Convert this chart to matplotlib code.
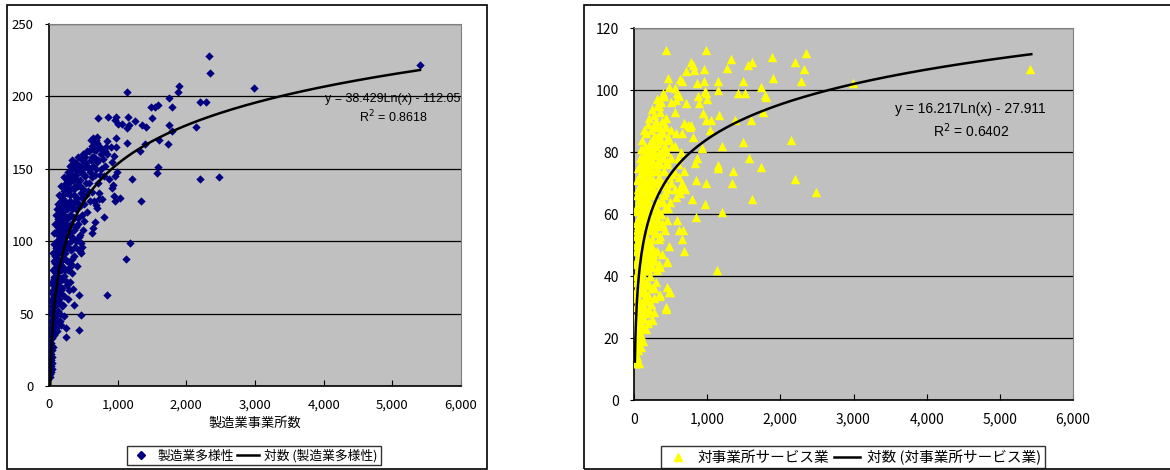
import matplotlib
matplotlib.use("Agg")
import matplotlib.pyplot as plt
import numpy as np
from matplotlib.patches import Rectangle
from matplotlib.lines import Line2D

plt.rcParams["font.family"] = ["Noto Sans CJK JP", "DejaVu Sans"]

# 製造業: (事業所数, 多様性)
mfg_x = [12, 15, 18, 20, 22, 25, 28, 30, 32, 35, 38, 40, 42, 45, 48, 50, 52, 55, 58, 60,
         62, 65, 68, 70, 72, 75, 78, 80, 82, 85, 88, 90, 92, 95, 98, 100, 102, 105, 108, 110,
         112, 115, 118, 120, 122, 125, 128, 130, 132, 135, 138, 140, 142, 145, 148, 150, 152, 155, 158, 160,
         162, 165, 168, 170, 172, 175, 178, 180, 182, 185, 188, 190, 192, 195, 198, 200, 205, 208, 210, 215,
         218, 220, 225, 228, 230, 235, 238, 240, 245, 248, 250, 255, 258, 260, 265, 268, 270, 275, 278, 280,
         285, 288, 290, 295, 300, 305, 308, 310, 315, 320, 325, 330, 335, 340, 345, 350, 355, 360, 365, 370,
         375, 380, 385, 390, 395, 400, 405, 410, 415, 420, 425, 430, 440, 445, 450, 455, 460, 470, 475, 480,
         490, 495, 500, 510, 520, 530, 540, 550, 560, 570, 580, 590, 600, 610, 620, 630, 640, 650, 660, 670,
         680, 690, 700, 710, 720, 740, 750, 760, 780, 800, 820, 850, 870, 900, 920,
         5403, 2325, 2345, 2990, 2199, 2282, 1898, 1883, 1752, 1791, 1485, 1549, 1587, 1505, 1136, 1150,
         1136, 1160, 1257, 1350, 1408, 1743, 1791, 2141, 1136, 1393, 1325, 1738, 1607, 1568, 1592, 2204,
         2481, 1204, 1335, 1175, 1121, 840, 980, 1010, 961, 864, 709, 1068, 980, 980, 942, 985, 961, 927,
         922, 951, 961, 1029, 796, 777, 728, 723, 626, 641, 665, 684, 703, 850, 825, 820, 694, 612, 689,
         645, 549, 437, 471, 437, 252, 364, 461, 432, 471, 306, 345, 388,
         8, 10, 14, 16, 20, 24, 26, 30, 34, 36, 40, 44, 48,
         22, 28, 34, 40, 46, 54, 60, 66, 74, 80, 86, 96, 106, 116, 126, 140, 150, 164, 180, 200, 220, 250,
         40, 48, 56, 64, 72, 80, 88, 96, 104, 112, 122, 132, 144, 156, 168, 180, 194, 208, 224, 240,
         258, 276, 296, 318, 340, 370,
         60, 70, 80, 90, 100, 116, 126, 136, 150, 160, 174, 186, 200, 214, 230, 246, 262, 280, 300, 322,
         344, 366, 390, 420, 450, 480, 510,
         110, 130, 148, 166, 182, 196, 212, 226, 244, 262, 280, 300, 320, 340, 360, 380, 404, 430, 456, 484,
         514, 546, 580, 620, 660,
         300, 340, 380, 420, 460, 500, 540, 580, 620, 660, 700, 740, 790]
mfg_y = [15, 25, 12, 30, 18, 35, 22, 40, 28, 45, 20, 50, 33, 55, 40, 60, 27, 48, 65, 38,
         70, 52, 44, 75, 60, 35, 80, 55, 68, 85, 47, 72, 90, 62, 78, 95, 40, 58, 88, 100,
         70, 82, 105, 50, 93, 110, 65, 76, 100, 115, 88, 60, 105, 118, 95, 72, 112, 122, 84, 102,
         45, 118, 125, 92, 66, 108, 128, 80, 115, 98, 130, 55, 120, 105, 74, 132, 112, 88, 125, 100,
         135, 62, 118, 92, 138, 108, 80, 128, 140, 115, 98, 133, 70, 142, 122, 86, 110, 136, 60, 145,
         126, 104, 95, 140, 118, 132, 82, 147, 112, 136, 100, 150, 125, 88, 142, 117, 152, 132, 108, 145,
         96, 138, 154, 122, 110, 146, 130, 83, 150, 116, 138, 103, 152, 124, 142, 93, 133, 148, 118, 156,
         136, 108, 150, 126, 145, 158, 140, 120, 152, 135, 162, 148, 128, 156, 144, 166, 152, 170, 158, 146,
         163, 150, 168, 140, 156, 146, 160, 150, 162, 145, 152, 160, 143, 165, 155,
         222, 228, 216, 206, 196, 196, 207, 203, 199, 193, 193, 193, 194, 185, 203, 186,
         178, 180, 183, 180, 179, 180, 176, 179, 168, 167, 162, 167, 170, 147, 151, 143,
         144, 143, 128, 99, 88, 63, 186, 181, 184, 186, 185, 181, 171, 165, 159, 148, 145, 139,
         137, 131, 128, 130, 117, 129, 129, 133, 106, 109, 113, 125, 123, 169, 165, 162, 172, 170, 170,
         171, 162, 63, 49, 39, 34, 56, 92, 94, 99, 72, 67, 154,
         8, 12, 18, 6, 22, 14, 27, 10, 20, 30, 16, 25, 12,
         38, 45, 52, 36, 58, 42, 48, 55, 40, 62, 50, 45, 56, 38, 52, 44, 58, 50, 42, 56, 48, 40,
         64, 72, 80, 66, 86, 74, 62, 82, 68, 76, 88, 70, 80, 64, 86, 74, 68, 82, 76, 88,
         72, 80, 66, 84, 78, 90,
         92, 98, 106, 112, 118, 96, 108, 92, 100, 114, 96, 108, 118, 94, 104, 112, 98, 116, 106, 94,
         102, 116, 100, 112, 104, 96, 114,
         122, 126, 132, 124, 138, 128, 144, 122, 134, 126, 148, 128, 142, 122, 136, 128, 142, 126, 138, 130,
         146, 132, 140, 134, 128,
         152, 156, 150, 158, 152, 160, 154, 150, 158, 163, 155, 165, 157]

# 対事業所サービス業: (事業所数, 多様性)
svc_x = [12, 15, 18, 20, 22, 25, 28, 30, 32, 35, 38, 40, 42, 45, 48, 50, 52, 55, 58, 60,
         62, 65, 68, 70, 72, 75, 78, 80, 82, 85, 88, 90, 92, 95, 98, 100, 102, 105, 108, 110,
         112, 115, 118, 120, 122, 125, 128, 130, 132, 135, 138, 140, 142, 145, 148, 150, 152, 155, 158, 160,
         162, 165, 168, 170, 172, 175, 178, 180, 182, 185, 188, 190, 192, 195, 198, 200, 205, 208, 210, 215,
         218, 220, 225, 228, 230, 235, 238, 240, 245, 248, 250, 255, 258, 260, 265, 268, 270, 275, 278, 280,
         285, 290, 295, 300, 305, 310, 315, 320, 325, 330, 335, 340, 345, 350, 355, 360, 365, 370, 375, 380,
         385, 390, 395, 400, 405, 410, 415, 420, 425, 430, 440, 445, 450, 455, 460, 470, 480, 490, 500, 510,
         520, 540, 560, 580, 600, 620, 640, 660, 680, 700,
         5408, 2993, 2355, 2197, 2325, 2278, 1886, 1900, 2146, 2205, 2488, 1731, 1791, 1800, 1759, 1608,
         1558, 1492, 1522, 1417, 1326, 1267, 1148, 1153, 1166, 1385, 1599, 1495, 1577, 1731, 1353, 1340,
         1608, 1203, 1144, 1153, 1198, 1130, 980, 442, 961, 961, 966, 989, 1002, 989, 1057, 1034, 784,
         806, 825, 706, 866, 879, 888, 715, 624, 652, 556, 588, 615, 570, 460, 478, 387, 351, 315, 943,
         761, 806, 784, 738, 683, 925, 829, 843, 866, 980, 970, 793, 843, 679, 670, 661, 588, 615, 483,
         456, 351, 456, 487, 351, 442, 251, 169, 32, 68, 269, 579, 624, 647,
         15, 20, 25, 30, 40, 45, 55, 65, 80, 90, 100, 120,
         18, 26, 34, 44, 52, 60, 74, 84, 96, 110, 126, 140, 160, 185, 210, 240,
         16, 24, 36, 46, 56, 66, 78, 88, 104, 118, 134, 150, 168, 186, 204, 226, 250, 280, 300, 340,
         20, 28, 38, 50, 62, 74, 86, 98, 112, 126, 140, 156, 172, 190, 208, 226, 246, 266, 290, 315,
         345, 380, 448, 480, 432, 340,
         22, 32, 44, 54, 66, 78, 90, 104, 118, 132, 146, 162, 178, 194, 212, 230, 250, 272, 296, 320,
         350, 385, 420,
         25, 35, 46, 58, 70, 84, 98, 112, 126, 142, 158, 174, 190, 208, 226, 246, 266, 288, 310, 334,
         360, 390, 425, 470,
         40, 55, 68, 82, 96, 110, 124, 138, 152, 168, 184, 200, 218, 236, 256, 276, 298, 322, 348, 376,
         410, 450, 520, 600,
         90, 110, 130, 150, 170, 190, 212, 236, 258, 282, 308, 334, 362, 392, 424, 460, 500, 560, 650,
         200, 240, 280, 320, 360, 400, 440, 500, 560]
svc_y = [12, 18, 25, 14, 30, 35, 20, 40, 15, 45, 28, 50, 22, 55, 33, 38, 58, 26, 48, 62,
         30, 42, 55, 65, 18, 50, 35, 68, 45, 58, 28, 70, 52, 40, 62, 72, 25, 48, 66, 56,
         74, 36, 60, 76, 44, 68, 52, 78, 30, 64, 72, 42, 58, 80, 50, 70, 35, 75, 62, 46,
         80, 56, 68, 38, 73, 60, 78, 52, 65, 44, 76, 58, 70, 32, 80, 62, 48, 74, 56, 82,
         66, 40, 72, 58, 78, 50, 68, 84, 62, 45, 74, 80, 55, 88, 66, 36, 76, 60, 85, 48,
         70, 82, 56, 90, 65, 75, 42, 85, 58, 70, 95, 80, 52, 88, 64, 76, 96, 60, 84, 70,
         90, 56, 78, 86, 66, 74, 98, 62, 82, 70, 88, 76, 58, 80, 68, 85, 72, 64, 78, 70,
         82, 74, 68, 86, 76, 72, 80, 70, 74, 68,
         106.9, 102.2, 112, 109, 106.9, 103, 110.8, 103.9, 83.8, 71.2, 67, 101, 98.5, 97.7, 92.9, 109,
         108.2, 103, 99, 99, 110, 107, 103, 100, 92, 90.4, 90.2, 83.2, 78, 75.1, 74, 70,
         65, 82, 75.7, 75, 60.8, 41.8, 113, 113, 106.9, 103, 99.8, 99, 97.2, 90.2, 90.2, 87.2, 109,
         108.2, 106.5, 106, 102.2, 98, 95.8, 95.8, 103.6, 103, 100.6, 99, 98, 96.8, 104, 101, 98, 96.3, 94.9, 92.5,
         88.2, 85, 88.8, 88.7, 89.3, 81.3, 76.4, 71, 78, 70, 63.2, 65, 59, 48.2, 55, 51.9, 58, 55, 49.8,
         44.8, 43, 36.6, 34.9, 33.9, 29.9, 25.8, 23, 11.8, 11.8, 28.5, 65.6, 66.7, 68.9,
         13, 16, 12, 17, 14, 19, 16, 18, 20, 17, 21, 19,
         22, 27, 24, 28, 22, 26, 29, 23, 27, 24, 29, 26, 28, 25, 29, 26,
         33, 38, 31, 36, 33, 38, 31, 35, 39, 32, 37, 33, 38, 34, 37, 31, 36, 33, 38, 34,
         44, 48, 41, 46, 43, 49, 44, 47, 41, 45, 49, 43, 47, 42, 46, 49, 43, 47, 45, 48,
         44, 47, 44.5, 34.8, 29.4, 33.7,
         53, 57, 51, 56, 59, 52, 57, 54, 59, 51, 56, 53, 58, 51, 55, 59, 52, 57, 54, 58,
         53, 57, 55,
         62, 66, 61, 68, 63, 67, 61, 65, 69, 62, 66, 61, 69, 64, 67, 62, 68, 63, 67, 61,
         69, 64, 67, 62,
         71, 75, 72, 78, 73, 77, 71, 79, 74, 77, 72, 79, 74, 77, 71, 79, 74, 77, 72, 79,
         74, 77, 73, 78,
         81, 84, 87, 82, 86, 89, 83, 87, 81, 85, 89, 83, 86, 81, 88, 84, 87, 82, 86,
         91, 94, 92, 97, 93, 99, 91, 96, 93]

# 近似曲線 (表示された式の係数): y = a * Ln(x) + b, 描画範囲 x0..x1
mfg_trend = (38.429, -112.05, 19, 5403)
svc_trend = (16.217, -27.911, 12, 5430)
mfg_eq = ["y = 38.429Ln(x) - 112.05", "R$^2$ = 0.8618"]
svc_eq = ["y = 16.217Ln(x) - 27.911", "R$^2$ = 0.6402"]

W, H = 1170, 470
fig = plt.figure(figsize=(W / 100, H / 100), dpi=100)

# outer chart frames
fig.add_artist(Rectangle((7 / W, 1 / H), 480 / W, 464 / H, transform=fig.transFigure,
                         fill=False, edgecolor="black", linewidth=1.2))
fig.add_artist(Rectangle((584 / W, 1 / H), 600 / W, 464 / H, transform=fig.transFigure,
                         fill=False, edgecolor="black", linewidth=1.2))


def style_axes(ax, ymax, ystep, fs):
    ax.set_facecolor("#C0C0C0")
    ax.set_xlim(0, 6000)
    ax.set_ylim(0, ymax)
    ax.set_xticks(np.arange(0, 6001, 1000))
    ax.set_xticklabels([f"{v:,}" for v in range(0, 6001, 1000)])
    ax.set_yticks(np.arange(0, ymax + 1, ystep))
    ax.grid(axis="y", color="black", linewidth=0.9)
    ax.set_axisbelow(True)
    for side in ("top", "right"):
        ax.spines[side].set_color("#808080")
    for side in ("left", "bottom"):
        ax.spines[side].set_color("black")
        ax.spines[side].set_linewidth(1.2)
    ax.tick_params(axis="x", direction="in", length=4, pad=9, labelsize=fs)
    ax.tick_params(axis="y", direction="out", length=3, pad=8, labelsize=fs)


def trend_curve(ax, a, b, x0, x1):
    xs = np.linspace(x0, x1, 800)
    ax.plot(xs, a * np.log(xs) + b, color="black", linewidth=1.8, zorder=4)


eq_font = ["Liberation Sans", "DejaVu Sans"]

# left: manufacturing
ax1 = fig.add_axes([49 / W, 1 - 386 / H, 412 / W, 362 / H])
style_axes(ax1, 250, 50, 9.5)
ax1.scatter(mfg_x, mfg_y, marker="D", s=18, color="#000080", linewidths=0, zorder=3)
trend_curve(ax1, *mfg_trend)
ax1.set_xlabel("製造業事業所数", fontsize=9.5, labelpad=4)
ax1.text(393 / W, 1 - 99 / H, mfg_eq[0], transform=fig.transFigure, ha="center", va="center",
         fontsize=9, family=eq_font, zorder=5)
ax1.text(393 / W, 1 - 117 / H, mfg_eq[1], transform=fig.transFigure, ha="center", va="center",
         fontsize=9, family=eq_font, zorder=5)
h1 = [Line2D([], [], marker="D", color="#000080", linestyle="none", markersize=4),
      Line2D([], [], color="black", linewidth=1.8)]
leg1 = fig.legend(h1, ["製造業多様性", "対数 (製造業多様性)"], loc="center",
                  bbox_to_anchor=(254 / W, 1 - 455.5 / H), ncol=2, fontsize=9.2, frameon=True,
                  fancybox=False, edgecolor="black", handlelength=1.7, handletextpad=0.4,
                  columnspacing=0.3, borderpad=0.25, borderaxespad=0)
leg1.get_frame().set_linewidth(1.0)

# right: business services
ax2 = fig.add_axes([634 / W, 1 - 400 / H, 439 / W, 372 / H])
style_axes(ax2, 120, 20, 10)
ax2.scatter(svc_x, svc_y, marker="^", s=46, color="#FFFF00", linewidths=0, zorder=3)
trend_curve(ax2, *svc_trend)
ax2.text(970 / W, 1 - 109 / H, svc_eq[0], transform=fig.transFigure, ha="center", va="center",
         fontsize=10, family=eq_font, zorder=5)
ax2.text(971 / W, 1 - 131 / H, svc_eq[1], transform=fig.transFigure, ha="center", va="center",
         fontsize=10, family=eq_font, zorder=5)
h2 = [Line2D([], [], marker="^", color="#FFFF00", linestyle="none", markersize=6),
      Line2D([], [], color="black", linewidth=1.8)]
leg2 = fig.legend(h2, ["対事業所サービス業", "対数 (対事業所サービス業)"], loc="center",
                  bbox_to_anchor=(853 / W, 1 - 457 / H), ncol=2, fontsize=10.5, frameon=True,
                  fancybox=False, edgecolor="black", handlelength=1.8, handletextpad=0.5,
                  columnspacing=0.3, borderpad=0.25, borderaxespad=0)
leg2.get_frame().set_linewidth(1.0)

fig.savefig("out.png", dpi=100)
